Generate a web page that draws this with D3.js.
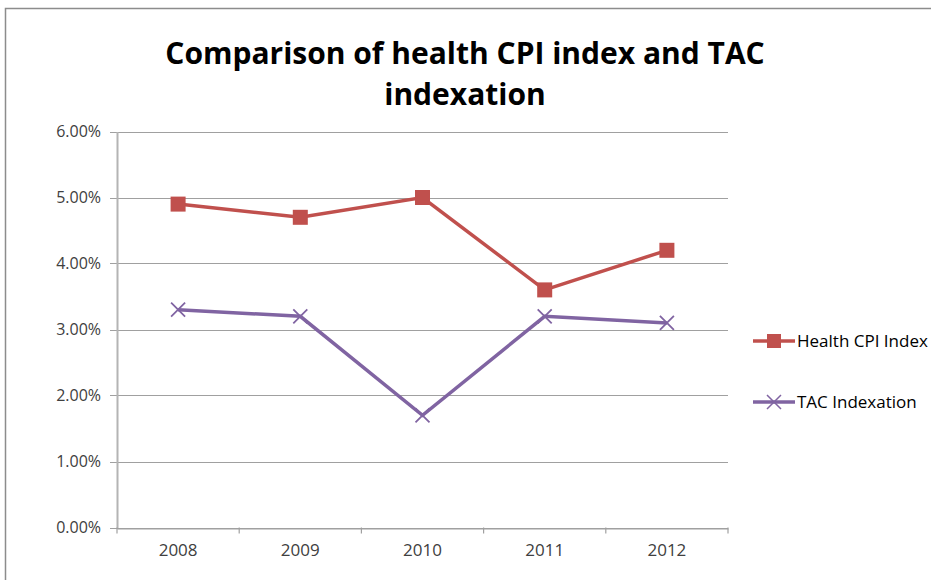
<!DOCTYPE html>
<html>
<head>
<meta charset="utf-8">
<script src="https://cdn.jsdelivr.net/npm/d3@7"></script>
<style>
  body { margin: 0; background: #fff; }
  text { font-family: "Open Sans", sans-serif; }
</style>
</head>
<body>
<div class="chart"></div>
<script>
var years = ["2008", "2009", "2010", "2011", "2012"];
var healthCpi = [0.049, 0.047, 0.050, 0.036, 0.042];
var tacIndexation = [0.033, 0.032, 0.017, 0.032, 0.031];
var yTicks = [0, 0.01, 0.02, 0.03, 0.04, 0.05, 0.06];

var width = 931, height = 580;
var plotLeft = 117, plotRight = 728, plotTop = 131.5, plotBottom = 527.5;

var svg = d3.select(".chart").append("svg")
    .attr("width", width)
    .attr("height", height);

// chart frame (only top and left visible)
svg.append("path")
    .attr("d", "M5.5," + (height + 10) + "V8.5H" + (width + 10))
    .attr("fill", "none")
    .attr("stroke", "#8c8c8c")
    .attr("stroke-width", 1.5);

var title = svg.append("text")
    .attr("text-anchor", "middle")
    .attr("font-weight", "bold")
    .attr("font-size", 30)
    .attr("fill", "#000");
title.append("tspan").attr("x", 465).attr("y", 64).text("Comparison of health CPI index and TAC");
title.append("tspan").attr("x", 465).attr("y", 105).text("indexation");

var x = d3.scaleBand().domain(years).range([plotLeft, plotRight]);
var y = d3.scaleLinear().domain([0, 0.06]).range([plotBottom, plotTop]);

// gridlines
svg.append("g")
    .selectAll("line")
    .data(yTicks)
    .enter()
    .append("line")
    .attr("x1", plotLeft - 7)
    .attr("x2", plotRight)
    .attr("y1", function (d) { return Math.round(y(d)) + 0.5; })
    .attr("y2", function (d) { return Math.round(y(d)) + 0.5; })
    .attr("stroke", "#a0a0a0")
    .attr("stroke-width", 1.2);

// y axis
var yAxis = svg.append("g")
    .attr("transform", "translate(" + plotLeft + ",0)")
    .call(d3.axisLeft(y).tickValues(yTicks).tickFormat(d3.format(".2%")).tickSize(0).tickPadding(16));
yAxis.select(".domain").attr("stroke", "#b4b4b4").attr("stroke-width", 2);
yAxis.selectAll("text").attr("font-size", 16).attr("fill", "#404040")
    .attr("font-family", "Open Sans, sans-serif");

// x axis
var xAxis = svg.append("g")
    .attr("transform", "translate(0," + (Math.round(plotBottom) + 0.5) + ")")
    .call(d3.axisBottom(x).tickSize(0).tickPadding(15));
xAxis.select(".domain").attr("stroke", "#a0a0a0").attr("stroke-width", 1.2);
xAxis.selectAll("text").attr("font-size", 17).attr("fill", "#404040")
    .attr("font-family", "Open Sans, sans-serif");

// x tick marks between categories
svg.append("g")
    .selectAll("line")
    .data(years.concat(["end"]))
    .enter()
    .append("line")
    .attr("x1", function (d, i) { return plotLeft + i * x.step(); })
    .attr("x2", function (d, i) { return plotLeft + i * x.step(); })
    .attr("y1", plotBottom)
    .attr("y2", plotBottom + 6)
    .attr("stroke", "#a0a0a0")
    .attr("stroke-width", 1.2);

function cx(i) { return x(years[i]) + x.bandwidth() / 2; }

var line = d3.line()
    .x(function (d, i) { return cx(i); })
    .y(function (d) { return y(d); });

var red = "#c0504d", purple = "#8064a2";

svg.append("path")
    .datum(healthCpi)
    .attr("d", line)
    .attr("fill", "none")
    .attr("stroke", red)
    .attr("stroke-width", 3.5);

svg.selectAll(".sq")
    .data(healthCpi)
    .enter()
    .append("rect")
    .attr("class", "sq")
    .attr("x", function (d, i) { return cx(i) - 7.5; })
    .attr("y", function (d) { return y(d) - 7.5; })
    .attr("width", 15)
    .attr("height", 15)
    .attr("fill", red);

svg.append("path")
    .datum(tacIndexation)
    .attr("d", line)
    .attr("fill", "none")
    .attr("stroke", purple)
    .attr("stroke-width", 3.5);

svg.selectAll(".cross")
    .data(tacIndexation)
    .enter()
    .append("path")
    .attr("class", "cross")
    .attr("d", function (d, i) {
        var px = cx(i), py = y(d), s = 7;
        return "M" + (px - s) + "," + (py - s) + "L" + (px + s) + "," + (py + s) +
            "M" + (px - s) + "," + (py + s) + "L" + (px + s) + "," + (py - s);
    })
    .attr("stroke", purple)
    .attr("stroke-width", 1.8)
    .attr("fill", "none");

// legend
var legend = svg.append("g");
legend.append("line")
    .attr("x1", 753).attr("x2", 795).attr("y1", 341).attr("y2", 341)
    .attr("stroke", red).attr("stroke-width", 3.5);
legend.append("rect")
    .attr("x", 767).attr("y", 334).attr("width", 14).attr("height", 14)
    .attr("fill", red);
legend.append("text")
    .attr("x", 797).attr("y", 347)
    .attr("font-size", 17).attr("fill", "#000")
    .text("Health CPI Index");

legend.append("line")
    .attr("x1", 753).attr("x2", 795).attr("y1", 402).attr("y2", 402)
    .attr("stroke", purple).attr("stroke-width", 3.5);
legend.append("path")
    .attr("d", "M767,395L781,409M767,409L781,395")
    .attr("stroke", purple).attr("stroke-width", 1.5);
legend.append("text")
    .attr("x", 797).attr("y", 408)
    .attr("font-size", 17).attr("fill", "#000")
    .text("TAC Indexation");
</script>
</body>
</html>
